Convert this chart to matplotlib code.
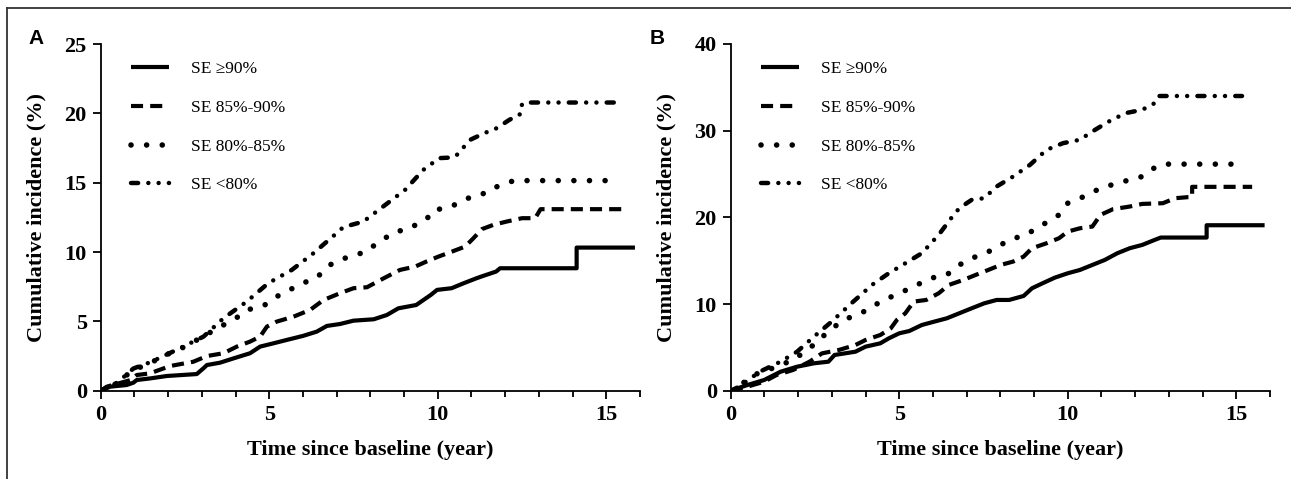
import matplotlib
matplotlib.use("Agg")
import matplotlib.pyplot as plt
from matplotlib.lines import Line2D
from matplotlib.ticker import MultipleLocator

# ---------------- data ----------------
labels = ["SE \u226590%", "SE 85%-90%", "SE 80%-85%", "SE <80%"]

# Panel A
a_ge90_x = [0, 0.28, 0.77, 0.97, 1.07, 1.48, 1.96, 2.85, 3.05, 3.15, 3.54, 3.94, 4.43, 4.73, 5.13, 5.52, 6.0, 6.41, 6.71, 7.1, 7.5, 8.1, 8.49, 8.83, 9.36, 9.79, 9.98, 10.41, 10.77, 11.14, 11.35, 11.73, 11.85, 14.12, 14.12, 15.85]
a_ge90_y = [0, 0.29, 0.41, 0.58, 0.77, 0.89, 1.06, 1.2, 1.62, 1.85, 2.02, 2.33, 2.7, 3.18, 3.42, 3.66, 3.95, 4.26, 4.67, 4.81, 5.05, 5.15, 5.46, 5.94, 6.18, 6.9, 7.27, 7.39, 7.75, 8.1, 8.28, 8.59, 8.83, 8.83, 10.32, 10.32]

a_85_x = [0, 0.18, 0.89, 1.07, 1.46, 2.06, 2.75, 3.15, 3.64, 4.04, 4.43, 4.73, 4.93, 5.22, 5.72, 6.21, 6.61, 7.1, 7.5, 7.9, 8.39, 8.88, 9.33, 9.66, 10.02, 10.42, 10.81, 11.06, 11.31, 11.65, 12.05, 12.5, 12.89, 13.05, 15.46]
a_85_y = [0, 0.29, 0.77, 1.13, 1.25, 1.78, 2.09, 2.5, 2.7, 3.18, 3.54, 3.9, 4.62, 4.98, 5.34, 5.82, 6.54, 7.03, 7.39, 7.46, 8.1, 8.71, 8.95, 9.31, 9.67, 10.03, 10.39, 11.0, 11.65, 11.96, 12.2, 12.44, 12.44, 13.09, 13.09]

a_80_x = [0, 0.6, 0.82, 0.97, 1.46, 1.81, 2.4, 3.0, 3.29, 3.59, 4.0, 4.33, 4.83, 5.12, 5.7, 6.03, 6.39, 6.8, 7.15, 7.55, 7.89, 8.19, 8.43, 8.74, 9.08, 9.43, 9.67, 9.87, 10.27, 10.61, 10.9, 11.3, 11.53, 11.94, 12.25, 15.0]
a_80_y = [0, 0.65, 1.25, 1.5, 1.97, 2.45, 3.06, 3.85, 4.26, 4.67, 5.2, 5.82, 6.11, 6.66, 7.39, 7.79, 8.11, 9.07, 9.48, 9.79, 10.03, 10.63, 10.99, 11.48, 11.6, 12.07, 12.37, 13.04, 13.16, 13.52, 13.88, 14.12, 14.55, 14.84, 15.15, 15.15]

a_lt80_x = [0, 0.5, 0.97, 1.5, 2.35, 3.05, 3.64, 4.33, 4.97, 5.67, 6.31, 7.0, 7.2, 7.79, 8.39, 9.03, 9.57, 10.04, 10.37, 10.53, 10.96, 11.39, 11.75, 12.13, 12.43, 12.43, 12.55, 15.5]
a_lt80_y = [0, 0.6, 1.6, 2.08, 3.06, 3.9, 5.22, 6.42, 7.75, 8.71, 9.91, 11.36, 11.8, 12.19, 13.3, 14.48, 15.92, 16.77, 16.81, 16.9, 18.09, 18.58, 18.93, 19.54, 19.9, 20.4, 20.78, 20.78]

# Panel B
b_ge90_x = [0, 0.49, 0.99, 1.48, 1.97, 2.47, 2.9, 3.08, 3.7, 4.0, 4.44, 4.69, 5.0, 5.3, 5.67, 6.04, 6.41, 6.78, 7.15, 7.52, 7.89, 8.26, 8.69, 8.94, 9.25, 9.62, 10.0, 10.36, 10.73, 11.1, 11.47, 11.84, 12.21, 12.58, 12.76, 14.12, 14.12, 15.84]
b_ge90_y = [0, 0.65, 1.23, 2.19, 2.77, 3.16, 3.35, 4.12, 4.5, 5.08, 5.47, 6.04, 6.62, 6.89, 7.58, 7.97, 8.35, 8.93, 9.51, 10.08, 10.47, 10.47, 10.93, 11.82, 12.39, 13.05, 13.55, 13.93, 14.51, 15.09, 15.86, 16.44, 16.82, 17.4, 17.67, 17.67, 19.09, 19.09]

b_85_x = [0, 0.49, 0.99, 1.36, 1.85, 2.34, 2.71, 3.21, 3.7, 4.0, 4.44, 4.75, 4.93, 5.18, 5.43, 5.8, 6.17, 6.47, 6.9, 7.27, 7.64, 8.01, 8.38, 8.69, 8.94, 9.37, 9.74, 10.0, 10.36, 10.73, 10.97, 11.34, 11.84, 12.21, 12.82, 13.19, 13.56, 13.69, 13.69, 15.47]
b_85_y = [0, 0.46, 1.04, 1.81, 2.39, 3.35, 4.31, 4.7, 5.27, 5.85, 6.43, 7.2, 8.16, 8.93, 10.28, 10.47, 11.24, 12.2, 12.78, 13.36, 13.93, 14.51, 14.9, 15.47, 16.44, 17.01, 17.59, 18.36, 18.74, 18.94, 20.28, 20.94, 21.25, 21.55, 21.63, 22.21, 22.33, 22.33, 23.52, 23.52]

b_80_x = [0, 0.12, 0.8, 1.23, 1.85, 2.34, 2.84, 3.21, 3.58, 4.07, 4.44, 5.0, 5.43, 5.92, 6.41, 6.78, 7.27, 7.77, 8.26, 8.75, 9.25, 9.74, 10.0, 10.48, 10.97, 11.47, 11.84, 12.21, 12.45, 12.82, 15.17]
b_80_y = [0, 0.27, 2.0, 2.58, 3.54, 4.89, 6.62, 7.78, 8.55, 9.31, 10.28, 11.24, 12.01, 12.97, 13.36, 14.51, 15.47, 16.24, 17.4, 17.98, 19.13, 20.28, 21.63, 22.4, 23.36, 23.94, 24.33, 24.71, 25.48, 26.14, 26.14]

b_lt80_x = [0, 0.25, 0.86, 1.48, 1.97, 2.47, 2.96, 3.58, 4.19, 4.69, 5.18, 5.67, 6.17, 6.54, 6.78, 7.15, 7.52, 7.89, 8.38, 8.88, 9.37, 9.86, 10.36, 10.73, 11.22, 11.71, 12.21, 12.58, 12.7, 15.17]
b_lt80_y = [0, 0.46, 2.19, 3.35, 4.5, 6.24, 7.85, 10.08, 12.2, 13.55, 14.7, 15.86, 17.98, 19.9, 21.05, 22.02, 22.21, 23.56, 24.71, 26.06, 27.79, 28.56, 28.95, 29.91, 31.06, 32.02, 32.41, 33.18, 34.0, 34.0]

panel_a = [(a_ge90_x, a_ge90_y), (a_85_x, a_85_y), (a_80_x, a_80_y), (a_lt80_x, a_lt80_y)]
panel_b = [(b_ge90_x, b_ge90_y), (b_85_x, b_85_y), (b_80_x, b_80_y), (b_lt80_x, b_lt80_y)]

# ---------------- styles ----------------
styles = [
    dict(lw=3.0, linestyle="-", solid_capstyle="butt"),
    dict(lw=3.0, linestyle=(0, (2.9, 1.7)), dash_capstyle="butt"),
    dict(lw=4.0, linestyle=(0, (0.01, 2.8)), dash_capstyle="round"),
    dict(lw=3.2, linestyle=(0, (1.6, 2.3, 0.01, 2.3, 0.01, 2.3)), dash_capstyle="round"),
]

SERIF = "Liberation Serif"
W, H = 1291, 479
fig = plt.figure(figsize=(W / 100, H / 100), dpi=100)
fig.patch.set_facecolor("white")


def make_panel(left_px, data, ymax, ystep, letter, letter_x):
    x0, x1 = left_px, left_px + 539.3
    y_bottom, y_top = 390.7, 44.0
    ax = fig.add_axes([x0 / W, 1 - y_bottom / H, (x1 - x0) / W, (y_bottom - y_top) / H])
    for (xs, ys), st in zip(data, styles):
        ax.plot(xs, ys, color="black", **st)
    ax.set_xlim(0, 16)
    ax.set_ylim(0, ymax)
    ax.xaxis.set_major_locator(MultipleLocator(5))
    ax.xaxis.set_minor_locator(MultipleLocator(1))
    ax.yaxis.set_major_locator(MultipleLocator(ystep))
    for s in ["top", "right"]:
        ax.spines[s].set_visible(False)
    for s in ["left", "bottom"]:
        ax.spines[s].set_linewidth(1.3)
    ax.tick_params(axis="both", which="major", direction="out", length=6, width=1.3,
                   labelsize=16, pad=4)
    ax.tick_params(axis="x", which="minor", direction="out", length=4, width=1.3)
    for t in ax.get_xticklabels() + ax.get_yticklabels():
        t.set_fontfamily(SERIF)
        t.set_fontweight("bold")
    ax.set_xlabel("Time since baseline (year)", fontfamily=SERIF, fontweight="bold", fontsize=16)
    ax.set_ylabel("Cumulative incidence (%)", fontfamily=SERIF, fontweight="bold", fontsize=16)
    ax.xaxis.set_label_coords(0.5, (390.7 - 440) / 346.7)
    ax.yaxis.set_label_coords((46 - 100.7) / 539.3, 0.5)
    handles = [Line2D([], [], color="black", **st) for st in styles]
    ax.legend(handles, labels, loc="upper left",
              bbox_to_anchor=((130.7 - 100.7) / 539.3, (390.7 - 61) / 346.7),
              frameon=False, borderaxespad=0, borderpad=0,
              handlelength=2.2, handletextpad=1.25, labelspacing=1.3,
              prop={"family": SERIF, "size": 12.5})
    fig.text(letter_x / W, 1 - 39 / H, letter, fontfamily="Liberation Sans",
             fontweight="bold", fontsize=15, ha="center", va="center")
    return ax


make_panel(100.7, panel_a, 25, 5, "A", 36)
make_panel(730.7, panel_b, 40, 10, "B", 657)

# outer frame (top and left edges visible)
fig.add_artist(Line2D([6.5 / W, 1.0], [1 - 8 / H, 1 - 8 / H], transform=fig.transFigure,
                      color="#333333", lw=1.3))
fig.add_artist(Line2D([6.5 / W, 6.5 / W], [0.0, 1 - 8 / H], transform=fig.transFigure,
                      color="#333333", lw=1.3))

fig.savefig("out.png", dpi=100, facecolor="white")
